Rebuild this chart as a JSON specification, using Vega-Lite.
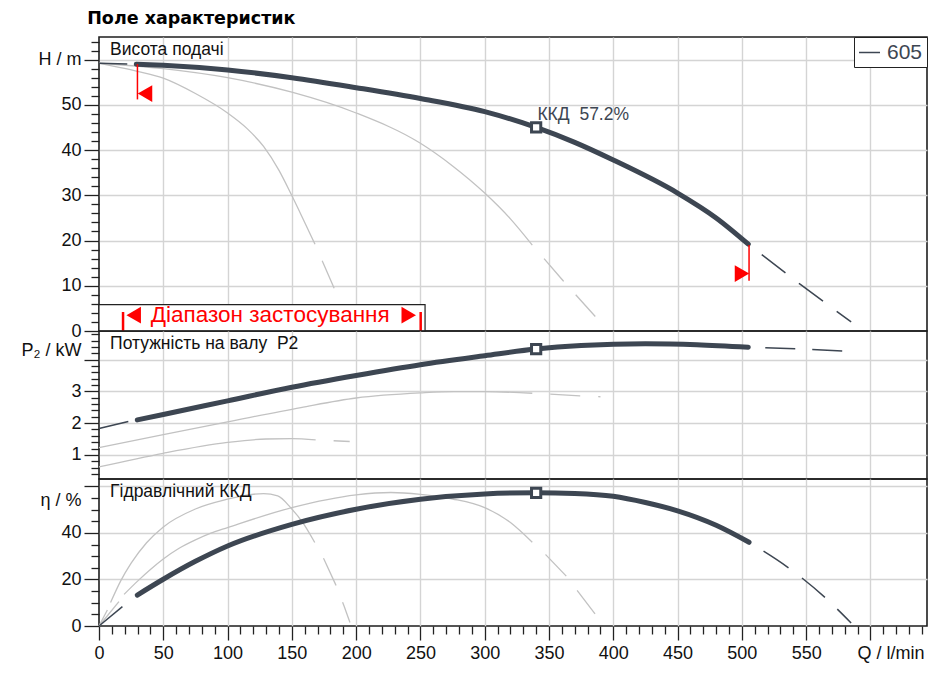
{
"$schema": "https://vega.github.io/schema/vega-lite/v6.json",
"background": "white",
"padding": {"left": 20, "top": 10, "right": 5, "bottom": 5},
"title": {"text": "Поле характеристик", "anchor": "start", "fontSize": 17.5, "font": "DejaVu Sans", "fontWeight": "bold", "color": "#000000", "offset": 4, "dx": 67},
"spacing": 0,
"bounds": "flush",
"datasets": {
"H": [
{"seg":"M_lead","Q":0,"v":59.2},{"seg":"M_lead","Q":22,"v":59.05},
{"seg":"M","Q":29,"v":59.0},{"seg":"M","Q":50,"v":58.75},{"seg":"M","Q":100,"v":57.7},{"seg":"M","Q":150,"v":56.0},{"seg":"M","Q":200,"v":53.8},{"seg":"M","Q":250,"v":51.4},{"seg":"M","Q":300,"v":48.5},{"seg":"M","Q":340,"v":45.0},{"seg":"M","Q":370,"v":41.7},{"seg":"M","Q":400,"v":37.8},{"seg":"M","Q":450,"v":30.5},{"seg":"M","Q":480,"v":25.0},{"seg":"M","Q":505,"v":19.2},
{"seg":"M_trail","Q":505,"v":19.2},{"seg":"M_trail","Q":545,"v":10.4},{"seg":"M_trail","Q":585,"v":2.0},
{"seg":"A","Q":0,"v":59.2},{"seg":"A","Q":10,"v":58.6},{"seg":"A","Q":30,"v":57.4},{"seg":"A","Q":50,"v":55.9},{"seg":"A","Q":75,"v":52.5},{"seg":"A","Q":100,"v":48.2},{"seg":"A","Q":115,"v":44.8},{"seg":"A","Q":128,"v":40.8},{"seg":"A","Q":140,"v":35.5},{"seg":"A","Q":149,"v":30.5},{"seg":"A","Q":160,"v":24.0},{"seg":"A","Q":168,"v":19.2},
{"seg":"A_trail","Q":168,"v":19.2},{"seg":"A_trail","Q":183,"v":9.4},{"seg":"A_trail","Q":192,"v":3.0},
{"seg":"B","Q":0,"v":59.2},{"seg":"B","Q":50,"v":58.0},{"seg":"B","Q":100,"v":56.0},{"seg":"B","Q":150,"v":52.8},{"seg":"B","Q":200,"v":48.2},{"seg":"B","Q":250,"v":41.5},{"seg":"B","Q":275,"v":36.5},{"seg":"B","Q":300,"v":30.5},{"seg":"B","Q":320,"v":24.8},{"seg":"B","Q":337,"v":19.0},
{"seg":"B_trail","Q":337,"v":19.0},{"seg":"B_trail","Q":361,"v":11.1},{"seg":"B_trail","Q":386,"v":3.2},
{"seg":"BEP","Q":340,"v":45.0}
],
"P": [
{"seg":"M_lead","Q":0,"v":1.83},{"seg":"M_lead","Q":22.8,"v":2.05},
{"seg":"M","Q":29.8,"v":2.10},{"seg":"M","Q":50,"v":2.27},{"seg":"M","Q":100,"v":2.70},{"seg":"M","Q":150,"v":3.13},{"seg":"M","Q":200,"v":3.50},{"seg":"M","Q":250,"v":3.84},{"seg":"M","Q":300,"v":4.12},{"seg":"M","Q":340,"v":4.33},{"seg":"M","Q":375,"v":4.44},{"seg":"M","Q":425,"v":4.50},{"seg":"M","Q":465,"v":4.47},{"seg":"M","Q":505,"v":4.39},
{"seg":"M_trail","Q":505,"v":4.39},{"seg":"M_trail","Q":543,"v":4.34},{"seg":"M_trail","Q":580,"v":4.27},
{"seg":"A","Q":0,"v":0.62},{"seg":"A","Q":50,"v":1.05},{"seg":"A","Q":100,"v":1.39},{"seg":"A","Q":130,"v":1.50},{"seg":"A","Q":150,"v":1.51},{"seg":"A","Q":168.5,"v":1.47},
{"seg":"A_trail","Q":168.5,"v":1.47},{"seg":"A_trail","Q":195,"v":1.42},
{"seg":"B","Q":0,"v":1.23},{"seg":"B","Q":50,"v":1.64},{"seg":"B","Q":100,"v":2.04},{"seg":"B","Q":157,"v":2.49},{"seg":"B","Q":200,"v":2.79},{"seg":"B","Q":250,"v":2.95},{"seg":"B","Q":276,"v":2.99},{"seg":"B","Q":300,"v":2.99},{"seg":"B","Q":337,"v":2.94},
{"seg":"B_trail","Q":337,"v":2.94},{"seg":"B_trail","Q":374,"v":2.86},{"seg":"B_trail","Q":390,"v":2.83},
{"seg":"BEP","Q":340,"v":4.33}
],
"E": [
{"seg":"M_lead","Q":0,"v":0},{"seg":"M_lead","Q":18.2,"v":8.3},
{"seg":"M","Q":29.8,"v":13.3},{"seg":"M","Q":50,"v":20.1},{"seg":"M","Q":75,"v":27.8},{"seg":"M","Q":100,"v":34.4},{"seg":"M","Q":150,"v":43.7},{"seg":"M","Q":200,"v":50.2},{"seg":"M","Q":250,"v":54.5},{"seg":"M","Q":300,"v":56.8},{"seg":"M","Q":340,"v":57.3},{"seg":"M","Q":370,"v":57.0},{"seg":"M","Q":400,"v":55.8},{"seg":"M","Q":425,"v":53.1},{"seg":"M","Q":450,"v":49.5},{"seg":"M","Q":480,"v":43.3},{"seg":"M","Q":505.6,"v":36.0},
{"seg":"M_trail","Q":505.6,"v":36.0},{"seg":"M_trail","Q":536.6,"v":24.9},{"seg":"M_trail","Q":565.4,"v":11.9},{"seg":"M_trail","Q":585,"v":1.3},
{"seg":"A_lead","Q":0,"v":0},{"seg":"A_lead","Q":6.5,"v":6.9},
{"seg":"A","Q":9,"v":10.1},{"seg":"A","Q":17,"v":19.5},{"seg":"A","Q":25,"v":27.0},{"seg":"A","Q":37,"v":35.8},{"seg":"A","Q":49.8,"v":42.5},{"seg":"A","Q":75,"v":50.3},{"seg":"A","Q":100,"v":54.5},{"seg":"A","Q":115,"v":56.3},{"seg":"A","Q":128,"v":56.9},{"seg":"A","Q":139,"v":55.9},{"seg":"A","Q":149,"v":50.9},{"seg":"A","Q":159.4,"v":43.7},{"seg":"A","Q":167.8,"v":35.9},
{"seg":"A_trail","Q":167.8,"v":35.9},{"seg":"A_trail","Q":175,"v":28.7},{"seg":"A_trail","Q":184,"v":17.9},{"seg":"A_trail","Q":190.6,"v":8.6},{"seg":"A_trail","Q":195.2,"v":1.5},
{"seg":"B_lead","Q":0,"v":0},{"seg":"B_lead","Q":15.5,"v":10.5},
{"seg":"B","Q":19.5,"v":13.6},{"seg":"B","Q":30,"v":19.3},{"seg":"B","Q":40,"v":24.3},{"seg":"B","Q":50,"v":28.8},{"seg":"B","Q":62,"v":33.3},{"seg":"B","Q":75,"v":37.0},{"seg":"B","Q":87,"v":39.9},{"seg":"B","Q":100,"v":42.3},{"seg":"B","Q":150,"v":50.9},{"seg":"B","Q":200,"v":56.4},{"seg":"B","Q":227,"v":57.4},{"seg":"B","Q":250,"v":56.6},{"seg":"B","Q":275,"v":54.6},{"seg":"B","Q":300,"v":50.9},{"seg":"B","Q":320,"v":44.5},{"seg":"B","Q":337,"v":36.0},
{"seg":"B_trail","Q":337,"v":36.0},{"seg":"B_trail","Q":347.4,"v":30.7},{"seg":"B_trail","Q":363.5,"v":21.4},{"seg":"B_trail","Q":372,"v":15.2},{"seg":"B_trail","Q":385.8,"v":5.2},
{"seg":"BEP","Q":340,"v":57.2}
],
"ann": [
{"kind":"box","Q":0,"Q2":253.6,"v":0,"v2":5.85},
{"kind":"rule","Q":29.9,"v":59.0,"v2":51.2},
{"kind":"rule","Q":505.6,"v":19.0,"v2":11.1},
{"kind":"bar","Q":18.7,"v":0,"v2":4.2},
{"kind":"bar","Q":250.2,"v":0,"v2":4.2},
{"kind":"tl","Q":35.8,"v":52.5},
{"kind":"tl","Q":27,"v":3.5},
{"kind":"tr","Q":500.1,"v":12.7},
{"kind":"tr","Q":240.9,"v":3.5}
],
"notes": [
{"panel":"H","kind":"label","Q":8.6,"v":62.1,"text":"Висота подачі"},
{"panel":"H","kind":"kkd","Q":341,"v":47.7,"text":"ККД\u00a0\u00a057.2%"},
{"panel":"H","kind":"range","Q":133.2,"v":3.5,"text":"Діапазон застосування"},
{"panel":"P","kind":"label","Q":8.6,"v":4.49,"text":"Потужність на валу\u00a0\u00a0P2"},
{"panel":"E","kind":"label","Q":8.6,"v":57.5,"text":"Гідравлічний ККД"}
]
},
"vconcat": [
{
"width": 828, "height": 294,
"encoding": {
"x": {"field":"Q","type":"quantitative","scale":{"domain":[0,644],"nice":false,"zero":false},
 "axis":{"title":null,"values":[50,100,150,200,250,300,350,400,450,500,550,600],"labels":false,"ticks":false,"domain":false,"grid":true}},
"y": {"field":"v","type":"quantitative","scale":{"domain":[0,65],"nice":false,"zero":false},
 "axis":{"title":null,"values":[0,2,4,6,8,10,12,14,16,18,20,22,24,26,28,30,32,34,36,38,40,42,44,46,48,50,52,54,56,58,60,62,64],
  "gridOpacity":{"condition":{"test":"datum.value % 10 === 0 && datum.value > 0","value":1},"value":0},
  "tickSize":{"condition":{"test":"datum.value % 10 === 0","value":15},"value":8},
  "labelExpr":"datum.value === 60 ? 'H / m' : (datum.value % 10 === 0 ? datum.label : '')"}}
},
"layer": [
{"data":{"name":"H"},"transform":[{"filter":{"field":"seg","oneOf":["A","B"]}}],"mark":{"type":"line","color":"#c2c2c2","strokeWidth":1.3,"interpolate":"monotone"},"encoding":{"detail":{"field":"seg"}}},
{"data":{"name":"H"},"transform":[{"filter":{"field":"seg","oneOf":["A_trail","B_trail"]}}],"mark":{"type":"line","color":"#c2c2c2","strokeWidth":1.3,"strokeDash":[30,18],"strokeDashOffset":30},"encoding":{"detail":{"field":"seg"}}},
{"data":{"name":"H"},"transform":[{"filter":{"field":"seg","equal":"M_lead"}}],"mark":{"type":"line","color":"#3d4652","strokeWidth":1.5},"encoding":{}},
{"data":{"name":"H"},"transform":[{"filter":{"field":"seg","equal":"M_trail"}}],"mark":{"type":"line","color":"#3d4652","strokeWidth":1.5,"strokeDash":[30,17],"strokeDashOffset":30},"encoding":{}},
{"data":{"name":"H"},"transform":[{"filter":{"field":"seg","equal":"M"}}],"mark":{"type":"line","strokeWidth":5,"strokeCap":"round","interpolate":"monotone"},
 "encoding":{"color":{"datum":"605","type":"nominal","scale":{"range":["#3d4652"]},
  "legend":{"title":null,"orient":"top-right","offset":0,"padding":4,"strokeColor":"#222222","fillColor":"white","cornerRadius":0,"labelFontSize":21,"labelFont":"Liberation Sans","labelColor":"#3d4652","symbolType":"stroke","symbolSize":440,"symbolStrokeWidth":1.5,"labelOffset":6}}}},
{"data":{"name":"H"},"transform":[{"filter":{"field":"seg","equal":"BEP"}}],"mark":{"type":"point","shape":"square","filled":true,"fill":"white","stroke":"#3d4652","strokeWidth":3,"size":85,"opacity":1}},
{"data":{"name":"ann"},"transform":[{"filter":{"field":"kind","equal":"box"}}],"mark":{"type":"rect","fill":"white","stroke":"#222222","strokeWidth":1.2},"encoding":{"x2":{"field":"Q2"},"y2":{"field":"v2"}}},
{"data":{"name":"ann"},"transform":[{"filter":{"field":"kind","equal":"rule"}}],"mark":{"type":"rule","color":"#ff0000","strokeWidth":1.5},"encoding":{"y2":{"field":"v2"}}},
{"data":{"name":"ann"},"transform":[{"filter":{"field":"kind","equal":"bar"}}],"mark":{"type":"rule","color":"#ff0000","strokeWidth":2.5},"encoding":{"y2":{"field":"v2"}}},
{"data":{"name":"ann"},"transform":[{"filter":{"field":"kind","equal":"tl"}}],"mark":{"type":"point","shape":"triangle-left","filled":true,"color":"#ff0000","size":280,"opacity":1}},
{"data":{"name":"ann"},"transform":[{"filter":{"field":"kind","equal":"tr"}}],"mark":{"type":"point","shape":"triangle-right","filled":true,"color":"#ff0000","size":280,"opacity":1}},
{"data":{"name":"notes"},"transform":[{"filter":{"field":"kind","equal":"range"}}],"mark":{"type":"text","align":"center","baseline":"middle","fontSize":22.5,"font":"Liberation Sans","color":"#ff0000"},"encoding":{"text":{"field":"text"}}},
{"data":{"name":"notes"},"transform":[{"filter":"datum.kind === 'label' && datum.panel === 'H'"}],"mark":{"type":"text","align":"left","baseline":"middle","fontSize":17.5,"font":"Liberation Sans","color":"#111111"},"encoding":{"text":{"field":"text"}}},
{"data":{"name":"notes"},"transform":[{"filter":{"field":"kind","equal":"kkd"}}],"mark":{"type":"text","align":"left","baseline":"middle","fontSize":17.5,"font":"Liberation Sans","color":"#3d4652"},"encoding":{"text":{"field":"text"}}}
]
},
{
"width": 828, "height": 148,
"encoding": {
"x": {"field":"Q","type":"quantitative","scale":{"domain":[0,644],"nice":false,"zero":false},
 "axis":{"title":null,"values":[50,100,150,200,250,300,350,400,450,500,550,600],"labels":false,"ticks":false,"domain":false,"grid":true}},
"y": {"field":"v","type":"quantitative","scale":{"domain":[0.24,4.9],"nice":false,"zero":false},
 "axis":{"title":null,"values":[0.4,0.6,0.8,1,1.2,1.4,1.6,1.8,2,2.2,2.4,2.6,2.8,3,3.2,3.4,3.6,3.8,4,4.2,4.4,4.6,4.8],
  "gridOpacity":{"condition":{"test":"abs(datum.value - round(datum.value)) < 0.01","value":1},"value":0},
  "tickSize":{"condition":{"test":"abs(datum.value - round(datum.value)) < 0.01","value":15},"value":8},
  "labelOffset":{"condition":{"test":"abs(datum.value - 4) < 0.01","value":-9},"value":0},
  "labelExpr":"abs(datum.value - 4) < 0.01 ? 'P₂ / kW' : (abs(datum.value - round(datum.value)) < 0.01 ? format(datum.value, 'd') : '')"}}
},
"layer": [
{"data":{"name":"P"},"transform":[{"filter":{"field":"seg","oneOf":["A","B"]}}],"mark":{"type":"line","color":"#c2c2c2","strokeWidth":1.3,"interpolate":"monotone"},"encoding":{"detail":{"field":"seg"}}},
{"data":{"name":"P"},"transform":[{"filter":{"field":"seg","oneOf":["A_trail","B_trail"]}}],"mark":{"type":"line","color":"#c2c2c2","strokeWidth":1.3,"strokeDash":[30,18],"strokeDashOffset":30},"encoding":{"detail":{"field":"seg"}}},
{"data":{"name":"P"},"transform":[{"filter":{"field":"seg","equal":"M_lead"}}],"mark":{"type":"line","color":"#3d4652","strokeWidth":1.5},"encoding":{}},
{"data":{"name":"P"},"transform":[{"filter":{"field":"seg","equal":"M_trail"}}],"mark":{"type":"line","color":"#3d4652","strokeWidth":1.5,"strokeDash":[30,17],"strokeDashOffset":30},"encoding":{}},
{"data":{"name":"P"},"transform":[{"filter":{"field":"seg","equal":"M"}}],"mark":{"type":"line","color":"#3d4652","strokeWidth":5,"strokeCap":"round","interpolate":"monotone"},"encoding":{}},
{"data":{"name":"P"},"transform":[{"filter":{"field":"seg","equal":"BEP"}}],"mark":{"type":"point","shape":"square","filled":true,"fill":"white","stroke":"#3d4652","strokeWidth":3,"size":85,"opacity":1}},
{"data":{"name":"notes"},"transform":[{"filter":"datum.kind === 'label' && datum.panel === 'P'"}],"mark":{"type":"text","align":"left","baseline":"middle","fontSize":17.5,"font":"Liberation Sans","color":"#111111"},"encoding":{"text":{"field":"text"}}}
]
},
{
"width": 828, "height": 147,
"encoding": {
"x": {"field":"Q","type":"quantitative","scale":{"domain":[0,644],"nice":false,"zero":false},
 "axis":{"title":null,"values":[0,10,20,30,40,50,60,70,80,90,100,110,120,130,140,150,160,170,180,190,200,210,220,230,240,250,260,270,280,290,300,310,320,330,340,350,360,370,380,390,400,410,420,430,440,450,460,470,480,490,500,510,520,530,540,550,560,570,580,590,600,610,620,630,640],
  "gridOpacity":{"condition":{"test":"datum.value % 50 === 0 && datum.value > 0","value":1},"value":0},
  "tickSize":{"condition":{"test":"datum.value % 50 === 0","value":14},"value":8},
  "labelOffset":{"condition":{"test":"datum.value === 600","value":20},"value":0},
  "labelPadding":4,
  "labelExpr":"datum.value === 600 ? 'Q / l/min' : (datum.value % 50 === 0 ? datum.label : '')"}},
"y": {"field":"v","type":"quantitative","scale":{"domain":[0,63.2],"nice":false,"zero":false},
 "axis":{"title":null,"values":[0,5,10,15,20,25,30,35,40,45,50,55,60],
  "gridOpacity":{"condition":{"test":"datum.value % 20 === 0 && datum.value > 0","value":1},"value":0},
  "tickSize":{"condition":{"test":"datum.value % 20 === 0","value":15},"value":8},
  "labelOffset":{"condition":{"test":"datum.value === 60","value":14},"value":0},
  "labelExpr":"datum.value === 60 ? 'η / %' : (datum.value % 20 === 0 ? datum.label : '')"}}
},
"layer": [
{"data":{"name":"E"},"transform":[{"filter":{"field":"seg","oneOf":["A","B","A_lead","B_lead"]}}],"mark":{"type":"line","color":"#c2c2c2","strokeWidth":1.3,"interpolate":"monotone"},"encoding":{"detail":{"field":"seg"}}},
{"data":{"name":"E"},"transform":[{"filter":{"field":"seg","oneOf":["A_trail","B_trail"]}}],"mark":{"type":"line","color":"#c2c2c2","strokeWidth":1.3,"strokeDash":[30,18],"strokeDashOffset":30},"encoding":{"detail":{"field":"seg"}}},
{"data":{"name":"E"},"transform":[{"filter":{"field":"seg","equal":"M_lead"}}],"mark":{"type":"line","color":"#3d4652","strokeWidth":1.5},"encoding":{}},
{"data":{"name":"E"},"transform":[{"filter":{"field":"seg","equal":"M_trail"}}],"mark":{"type":"line","color":"#3d4652","strokeWidth":1.5,"strokeDash":[30,17],"strokeDashOffset":30,"interpolate":"monotone"},"encoding":{}},
{"data":{"name":"E"},"transform":[{"filter":{"field":"seg","equal":"M"}}],"mark":{"type":"line","color":"#3d4652","strokeWidth":5,"strokeCap":"round","interpolate":"monotone"},"encoding":{}},
{"data":{"name":"E"},"transform":[{"filter":{"field":"seg","equal":"BEP"}}],"mark":{"type":"point","shape":"square","filled":true,"fill":"white","stroke":"#3d4652","strokeWidth":3,"size":85,"opacity":1}},
{"data":{"name":"notes"},"transform":[{"filter":"datum.kind === 'label' && datum.panel === 'E'"}],"mark":{"type":"text","align":"left","baseline":"middle","fontSize":17.5,"font":"Liberation Sans","color":"#111111"},"encoding":{"text":{"field":"text"}}}
]
}
],
"config": {
"font": "Liberation Sans",
"view": {"stroke": "#1e1e1e", "strokeWidth": 1.6},
"axis": {"labelFont": "Liberation Sans", "labelFontSize": 18, "labelColor": "#111111", "tickColor": "#222222", "tickWidth": 1.3, "domain": false, "gridColor": "#d4d4d4", "gridWidth": 1.4, "labelPadding": 3, "labelOverlap": false, "labelFlush": false, "labelBound": false}
}
}
